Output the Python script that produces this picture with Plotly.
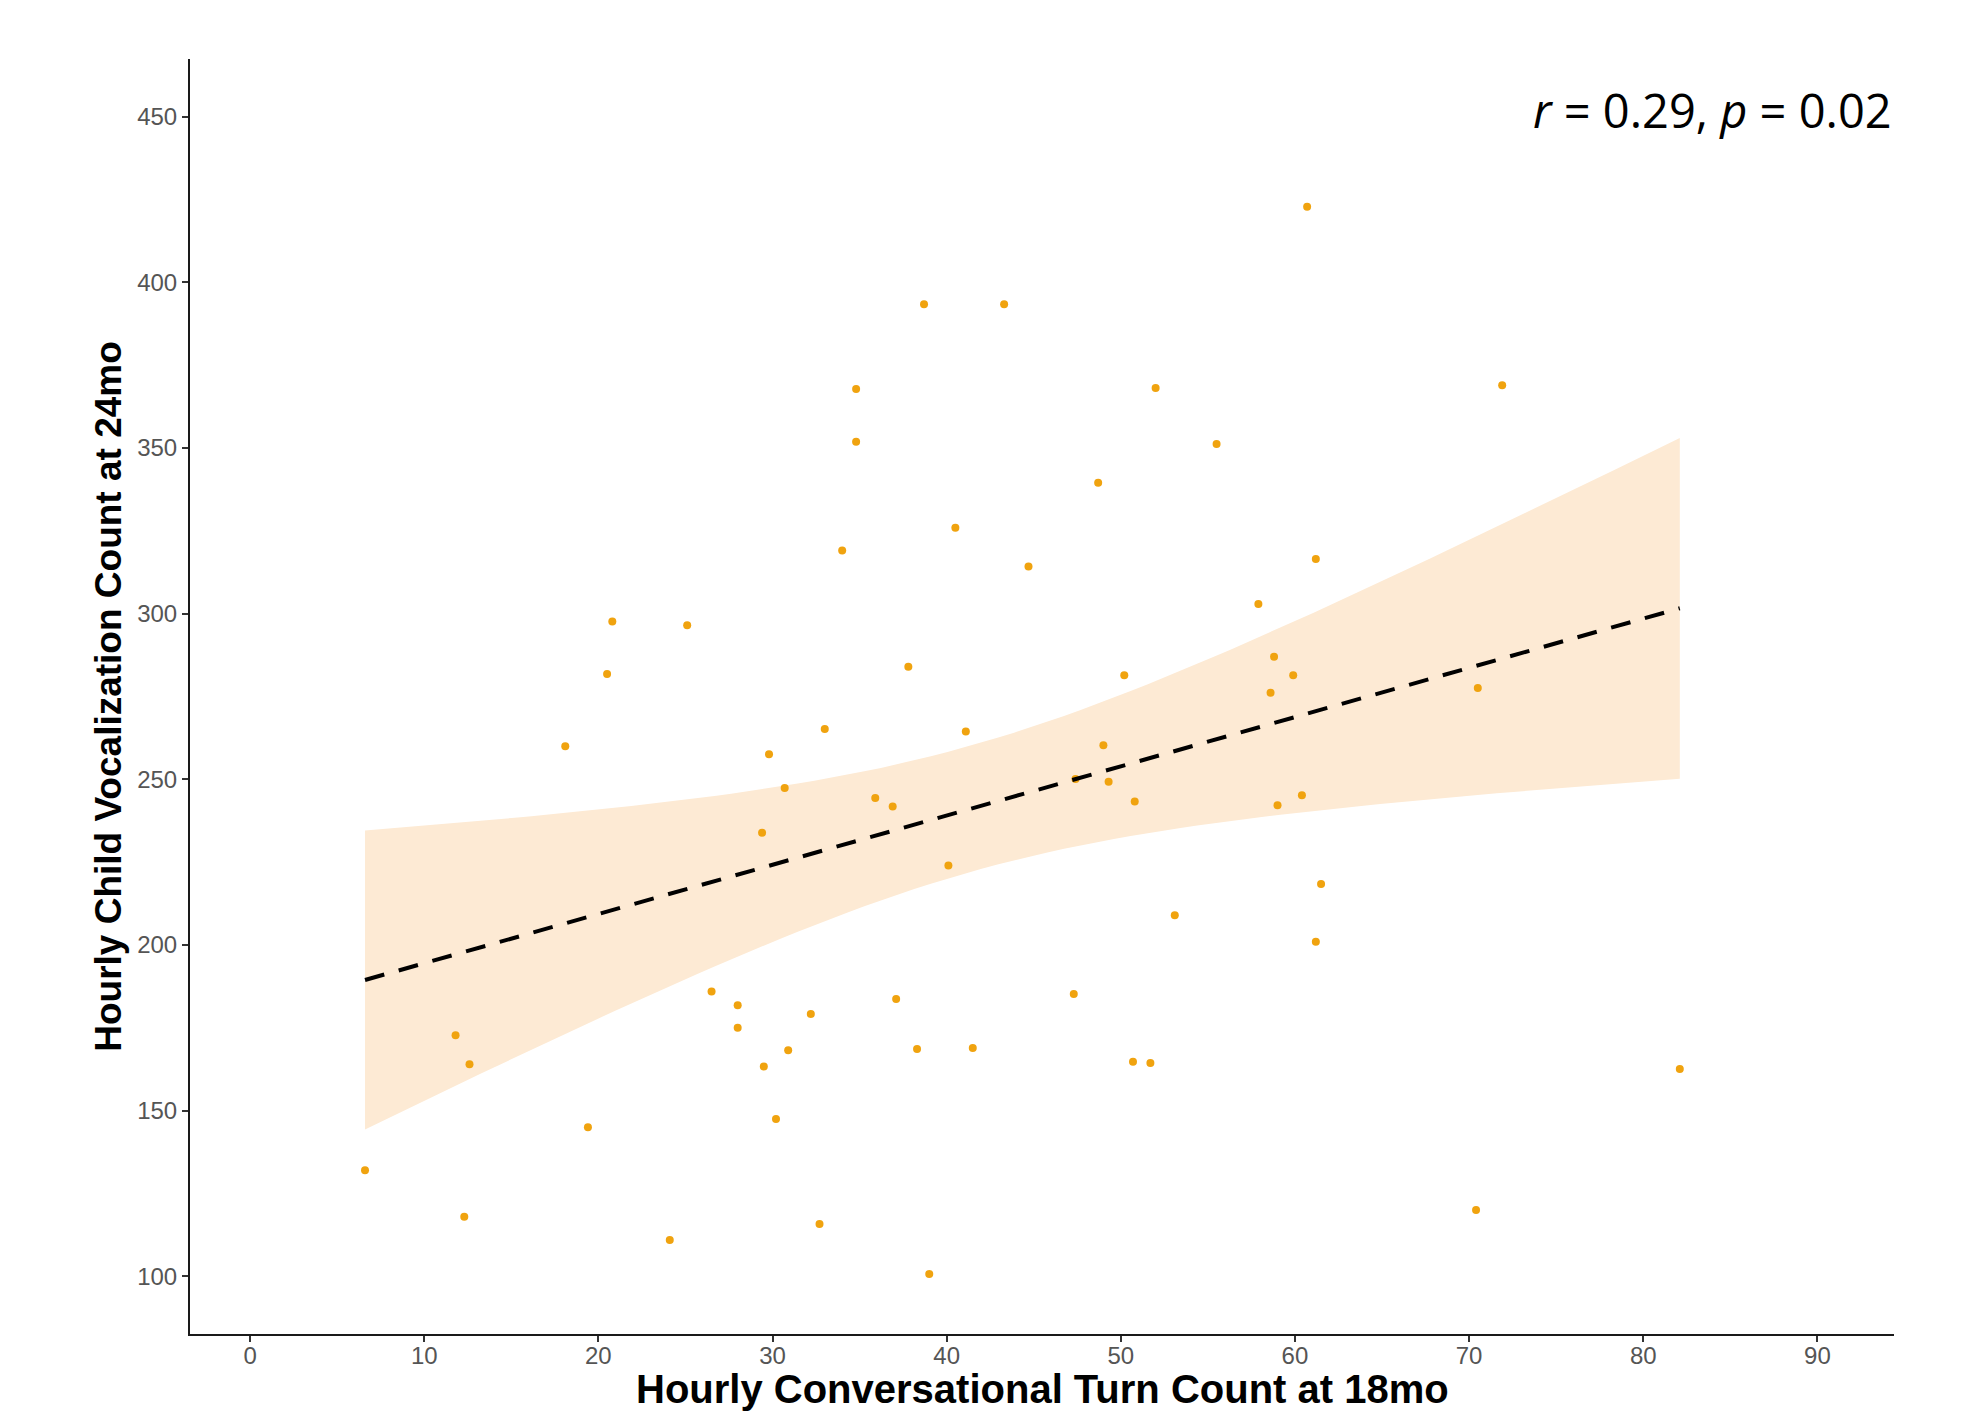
import numpy as np
import plotly.graph_objects as go

# Hourly conversational turn count at 18mo (x) and hourly child vocalization count at 24mo (y)
turns_18mo = [6.6, 11.8, 12.6, 12.3, 18.1, 19.4, 20.5, 20.8, 24.1, 25.1,
              26.5, 28.0, 28.0, 29.4, 29.8, 29.5, 30.2, 30.7, 30.9, 32.2,
              32.7, 33.0, 34.0, 34.8, 34.8, 35.9, 36.9, 37.1, 37.8, 38.3,
              38.7, 39.0, 40.1, 40.5, 41.1, 41.5, 43.3, 44.7, 47.3, 47.4,
              48.7, 49.0, 49.3, 50.2, 50.7, 50.8, 51.7, 52.0, 53.1, 55.5,
              57.9, 58.6, 58.8, 59.0, 59.9, 60.4, 60.7, 61.2, 61.2, 61.5,
              70.4, 70.5, 71.9, 82.1]
vocal_24mo = [132, 172.8, 164, 118, 260, 145, 281.8, 297.6, 111, 296.5,
              186, 181.8, 175, 233.9, 257.6, 163.3, 147.5, 247.4, 168.2, 179.2,
              115.8, 265.2, 319.1, 367.8, 351.9, 244.4, 241.8, 183.7, 284, 168.6,
              393.4, 100.7, 224, 325.9, 264.4, 168.9, 393.4, 314.2, 185.2, 250.1,
              339.5, 260.3, 249.3, 281.4, 164.8, 243.3, 164.4, 368.1, 209, 351.2,
              302.9, 276.1, 287, 242.2, 281.4, 245.2, 422.8, 316.5, 201, 218.4,
              120, 277.6, 368.9, 162.6]

x_ticks = [0, 10, 20, 30, 40, 50, 60, 70, 80, 90]
y_ticks = [100, 150, 200, 250, 300, 350, 400, 450]
annotation_text = "<i>r</i> = 0.29, <i>p</i> = 0.02"
x_title = "Hourly Conversational Turn Count at 18mo"
y_title = "Hourly Child Vocalization Count at 24mo"

# Linear fit with 95% confidence band (as geom_smooth(method="lm"))
x = np.array(turns_18mo, dtype=float)
y = np.array(vocal_24mo, dtype=float)
n = len(x)
b1, b0 = np.polyfit(x, y, 1)
resid = y - (b0 + b1 * x)
s = np.sqrt(np.sum(resid ** 2) / (n - 2))
xm = x.mean()
sxx = np.sum((x - xm) ** 2)
t_crit = 1.999  # t(0.975, df=62)
xg = np.linspace(x.min(), x.max(), 80)
yg = b0 + b1 * xg
se = s * np.sqrt(1.0 / n + (xg - xm) ** 2 / sxx)
lo = yg - t_crit * se
hi = yg + t_crit * se

fig = go.Figure()
fig.add_trace(go.Scatter(
    x=np.concatenate([xg, xg[::-1]]), y=np.concatenate([hi, lo[::-1]]),
    fill="toself", fillcolor="rgba(253,234,212,1)", line=dict(width=0),
    mode="lines", hoverinfo="skip", showlegend=False))
fig.add_trace(go.Scatter(
    x=turns_18mo, y=vocal_24mo, mode="markers",
    marker=dict(color="#F0A30F", size=8, line=dict(width=0)),
    showlegend=False))
fig.add_trace(go.Scatter(
    x=xg, y=yg, mode="lines",
    line=dict(color="black", width=4, dash="20px,15px"),
    showlegend=False))

axis_common = dict(
    showgrid=False, zeroline=False, showline=True, linecolor="#1a1a1a",
    linewidth=2, ticks="outside", ticklen=6, tickwidth=1.5, tickcolor="#333333",
    automargin=False,
    tickfont=dict(family="Liberation Sans, Arial", size=24, color="#555555"),
)
fig.update_xaxes(range=[-3.45, 94.4], tickvals=x_ticks, ticklabelstandoff=-7,
                 **axis_common)
fig.update_yaxes(range=[82.6, 467.4], tickvals=y_ticks,
                 title=dict(text="<b>" + y_title + "</b>", standoff=4,
                            font=dict(family="Liberation Sans, Arial", size=37, color="black")),
                 **axis_common)

# x-axis title
fig.add_annotation(text="<b>" + x_title + "</b>", xref="paper", yref="paper",
                   x=0.5, y=0, xanchor="center", yanchor="middle", yshift=-55,
                   showarrow=False,
                   font=dict(family="Liberation Sans, Arial", size=40, color="black"))

fig.add_annotation(text=annotation_text, xref="paper", yref="paper",
                   x=1.0, y=1.0, xanchor="right", yanchor="top", yshift=-17,
                   showarrow=False,
                   font=dict(family="Open Sans", size=47, color="black"))

fig.update_layout(
    width=1961, height=1414, paper_bgcolor="white", plot_bgcolor="white",
    margin=dict(l=190, r=67, t=59, b=80),
)
fig.write_html("out.html")
